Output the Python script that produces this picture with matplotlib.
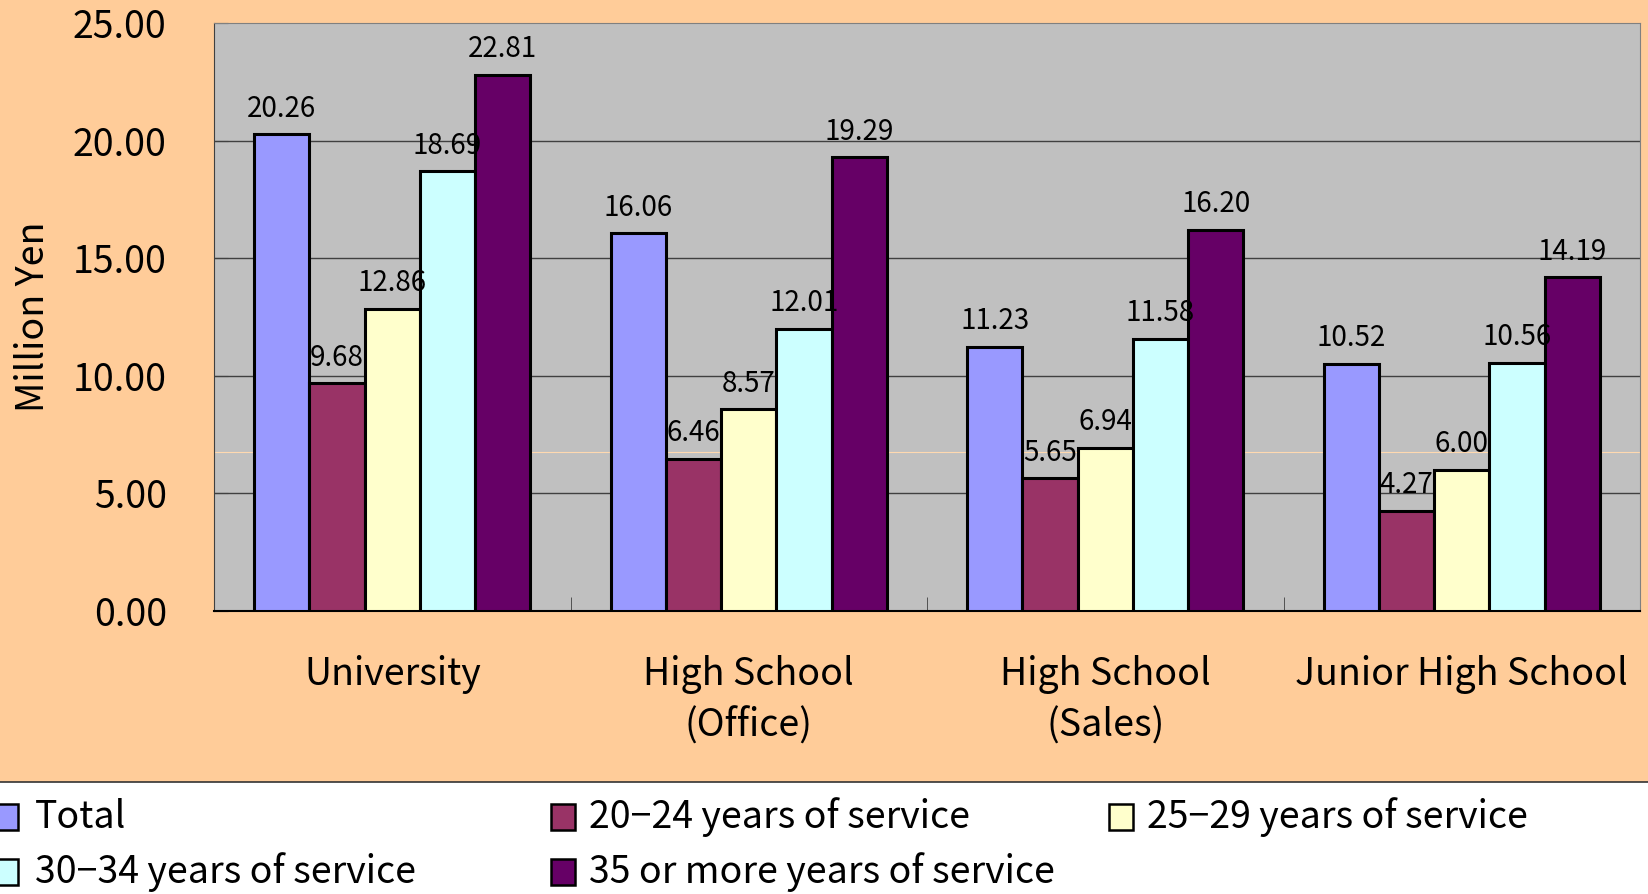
import matplotlib.pyplot as plt
import numpy as np
from matplotlib.patches import Rectangle

plt.rcParams['font.family'] = ['Noto Sans CJK JP', 'DejaVu Sans']

# retirement allowance by education and length of service (million yen)
categories = ['University', 'High School\n(Office)', 'High School\n(Sales)', 'Junior High School']
series_names = ['Total', '20−24 years of service', '25−29 years of service',
                '30−34 years of service', '35 or more years of service']
total = [20.26, 16.06, 11.23, 10.52]
yrs_20_24 = [9.68, 6.46, 5.65, 4.27]
yrs_25_29 = [12.86, 8.57, 6.94, 6.00]
yrs_30_34 = [18.69, 12.01, 11.58, 10.56]
yrs_35_up = [22.81, 19.29, 16.20, 14.19]
series = [total, yrs_20_24, yrs_25_29, yrs_30_34, yrs_35_up]
colors = ['#9999FF', '#993366', '#FFFFCC', '#CCFFFF', '#660066']

W, H = 1648, 894
fig = plt.figure(figsize=(W / 100, H / 100), dpi=100, facecolor='#FFCC99')
ax = fig.add_axes([214 / W, 1 - 611 / H, (1640 - 214) / W, (611 - 23) / H])
ax.set_facecolor('#C0C0C0')

x = np.arange(len(categories))
bw = 0.155
for i, (vals, c) in enumerate(zip(series, colors)):
    pos = x + (i - 2) * bw
    ax.bar(pos, vals, width=bw, color=c, edgecolor='black', linewidth=2.2, zorder=3)
    for px, v in zip(pos, vals):
        ax.text(px, v + 0.45, '%.2f' % v, ha='center', va='bottom', fontsize=20, zorder=5)

ax.set_ylim(0, 25)
ax.set_xlim(-0.5, len(categories) - 0.5)
ax.set_yticks(np.arange(0, 26, 5))
ax.set_yticklabels(['%.2f' % t for t in np.arange(0, 26, 5)], fontsize=27)
for t in [5, 10, 15, 20]:
    ax.axhline(t, color='#404040', linewidth=1, zorder=1)
ax.axhline(6.77, color='#FFD9B0', linewidth=0.8, zorder=1)

ax.set_xticks(x)
ax.set_xticklabels(categories, fontsize=27, linespacing=1.4)
ax.set_xticks(x[:-1] + 0.5, minor=True)
ax.tick_params(axis='x', which='major', length=0, pad=32)
ax.tick_params(axis='x', which='minor', direction='in', length=10, color='#404040')
ax.tick_params(axis='y', direction='in', length=10, color='#404040', pad=34)
ax.set_ylabel('Million Yen', fontsize=27, labelpad=14)

ax.spines['left'].set_color('#404040')
ax.spines['bottom'].set_color('black')
ax.spines['bottom'].set_linewidth(1.5)
ax.spines['top'].set_color('#808080')
ax.spines['right'].set_color('#808080')

# white legend strip along the bottom
ly = 1 - 782 / H
fig.patches.append(Rectangle((0, 0), 1, ly, transform=fig.transFigure,
                             facecolor='white', edgecolor='none', zorder=0))
fig.add_artist(plt.Line2D([0, 1], [ly, ly], transform=fig.transFigure,
                          color='#333333', linewidth=1.2))

col_x = [-6, 551, 1109]
row_y = [817, 872]
order = [(0, 0), (0, 1), (0, 2), (1, 0), (1, 1)]
for (r, cidx), name, c in zip(order, series_names, colors):
    x0 = col_x[cidx]
    yc = row_y[r]
    fig.patches.append(Rectangle((x0 / W, 1 - (yc + 13) / H), 24 / W, 26 / H,
                                 transform=fig.transFigure, facecolor=c,
                                 edgecolor='black', linewidth=1.8))
    fig.text((max(x0, 0) + 38 if cidx else 35) / W, 1 - yc / H, name,
             fontsize=27, va='center', ha='left')

fig.savefig('out.png', dpi=100, facecolor=fig.get_facecolor())
